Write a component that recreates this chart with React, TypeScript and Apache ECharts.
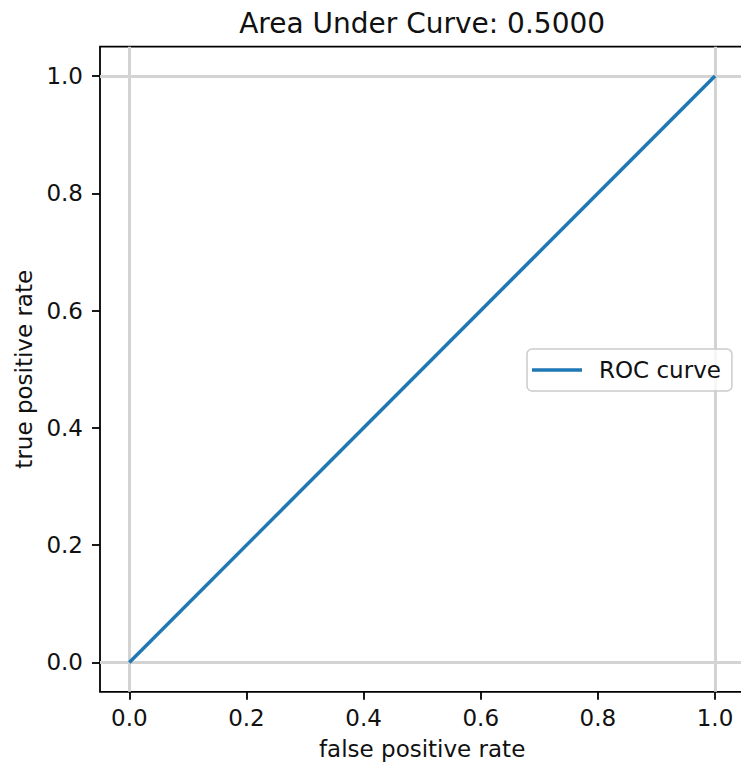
import React, { useEffect, useRef } from "react";
import * as echarts from "echarts";

// ROC curve points
const fpr: number[] = [0.0, 1.0];
const tpr: number[] = [0.0, 1.0];
const aucValue = 0.5;

// Tick positions for both axes
const tickValues: number[] = [0.0, 0.2, 0.4, 0.6, 0.8, 1.0];
// Reference lines drawn across the plot
const refX: number[] = [0, 1];
const refY: number[] = [0, 1];

const seriesName = "ROC curve";
const xLabel = "false positive rate";
const yLabel = "true positive rate";

const FONT = "DejaVu Sans";
const TEXT = "#111111";

export default function App() {
  const ref = useRef<HTMLDivElement>(null);

  useEffect(() => {
    if (!ref.current) return;
    const chart = echarts.init(ref.current, undefined, { renderer: "svg" });

    const gridLeft = 100;
    const gridTop = 46.7;
    const gridRightEdge = 744.3;
    const gridBottomEdge = 691.8;
    const W = 760;
    const H = 768;

    const axisCommon = {
      type: "value" as const,
      min: -0.05,
      max: 1.05,
      axisLine: { show: false, onZero: false },
      axisTick: {
        show: true,
        inside: false,
        length: 8,
        customValues: tickValues,
        lineStyle: { color: "#000", width: 1.8 },
      },
      splitLine: { show: false },
    };

    chart.setOption({
      animation: false,
      backgroundColor: "#ffffff",
      textStyle: { fontFamily: FONT },
      grid: {
        show: true,
        left: gridLeft,
        top: gridTop,
        right: W - gridRightEdge,
        bottom: H - gridBottomEdge,
        borderColor: "#000",
        borderWidth: 1.8,
        backgroundColor: "transparent",
      },
      xAxis: {
        ...axisCommon,
        position: "bottom",
        axisLabel: {
          customValues: tickValues,
          margin: 15,
          fontSize: 23,
          lineHeight: 23,
          color: TEXT,
          fontFamily: FONT,
          formatter: (v: number) => v.toFixed(1),
        },
      },
      yAxis: {
        ...axisCommon,
        position: "left",
        axisLabel: {
          customValues: tickValues,
          margin: 17,
          fontSize: 23,
          lineHeight: 23,
          color: TEXT,
          fontFamily: FONT,
          formatter: (v: number) => v.toFixed(1),
        },
      },
      legend: {
        left: 527,
        top: 349,
        orient: "vertical",
        padding: [9.5, 11, 9.5, 5],
        backgroundColor: "rgba(255,255,255,0.8)",
        borderColor: "#cccccc",
        borderWidth: 1.5,
        borderRadius: 5,
        itemWidth: 50,
        itemHeight: 3.5,
        selectedMode: false,
        data: [{ name: seriesName, icon: "rect" }],
        formatter: (name: string) => `{t|${name}}`,
        textStyle: {
          fontFamily: FONT,
          fontSize: 23,
          lineHeight: 23,
          color: TEXT,
          rich: {
            t: {
              fontFamily: FONT,
              fontSize: 23,
              lineHeight: 23,
              color: TEXT,
              padding: [0, 0, 0, 12],
            },
          },
        },
      },
      series: [
        {
          name: "reference lines",
          type: "line",
          data: [],
          z: 1,
          silent: true,
          markLine: {
            z: 1,
            silent: true,
            symbol: ["none", "none"],
            label: { show: false },
            lineStyle: { type: "solid", color: "#d3d3d3", width: 3 },
            emphasis: { disabled: true },
            data: [
              ...refX.map((v) => ({ xAxis: v })),
              ...refY.map((v) => ({ yAxis: v })),
            ],
          },
        },
        {
          name: seriesName,
          type: "line",
          z: 3,
          data: fpr.map((x, i) => [x, tpr[i]]),
          showSymbol: false,
          symbol: "none",
          lineStyle: { color: "#1f77b4", width: 3.5 },
          itemStyle: { color: "#1f77b4" },
          emphasis: { disabled: true },
        },
      ],
      graphic: [
        {
          type: "text",
          x: (gridLeft + gridRightEdge) / 2,
          y: 23.5,
          style: {
            text: `Area Under Curve: ${aucValue.toFixed(4)}`,
            fontFamily: FONT,
            fontSize: 28,
            fill: TEXT,
            textAlign: "center",
            textVerticalAlign: "middle",
          },
        },
        {
          type: "text",
          x: (gridLeft + gridRightEdge) / 2,
          y: 749,
          style: {
            text: xLabel,
            fontFamily: FONT,
            fontSize: 23,
            fill: TEXT,
            textAlign: "center",
            textVerticalAlign: "middle",
          },
        },
        {
          type: "text",
          x: 24,
          y: (gridTop + gridBottomEdge) / 2,
          rotation: Math.PI / 2,
          style: {
            text: yLabel,
            fontFamily: FONT,
            fontSize: 23,
            fill: TEXT,
            textAlign: "center",
            textVerticalAlign: "middle",
          },
        },
      ],
    });

    return () => chart.dispose();
  }, []);

  return (
    <div
      style={{
        position: "absolute",
        left: 0,
        top: 0,
        width: 741,
        height: 768,
        overflow: "hidden",
        background: "#fff",
      }}
    >
      <div ref={ref} style={{ width: 760, height: 768 }} />
    </div>
  );
}
